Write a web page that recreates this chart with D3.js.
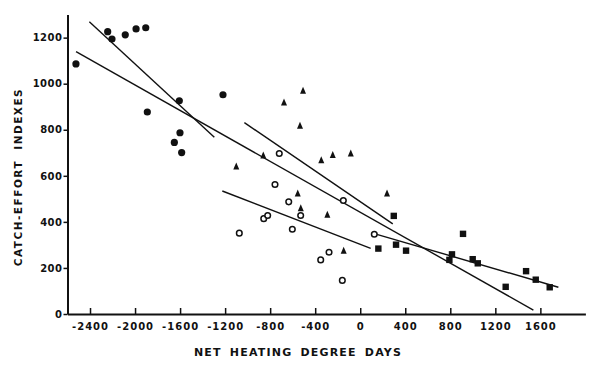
<!DOCTYPE html>
<html>
<head>
<meta charset="utf-8">
<script src="https://cdn.jsdelivr.net/npm/d3@7"></script>
<style>
  body { margin: 0; background: #fff; }
  svg { display: block; }
  .axis text { font-family: "DejaVu Sans", sans-serif; font-weight: bold; font-size: 10px; fill: #111; }
  .axis path, .axis line { stroke: #111; }
  .title { font-family: "DejaVu Sans", sans-serif; font-weight: bold; fill: #111; }
</style>
</head>
<body>
<script>
// values: [net heating degree days, catch-effort index]
const xTicks = [-2400, -2000, -1600, -1200, -800, -400, 0, 400, 800, 1200, 1600];
const yTicks = [0, 200, 400, 600, 800, 1000, 1200];

const filledCircles = [
  [-2525, 1086], [-2243, 1226], [-2205, 1194], [-2087, 1212], [-1991, 1238],
  [-1905, 1243], [-1891, 877], [-1607, 926], [-1601, 787], [-1651, 745],
  [-1586, 701], [-1219, 952]
];
const triangles = [
  [-1101, 640], [-861, 687], [-677, 917], [-508, 968], [-535, 817],
  [-346, 667], [-244, 690], [-84, 696], [-555, 522], [-528, 458],
  [-292, 430], [238, 522], [-147, 274]
];
const openCircles = [
  [-1074, 351], [-757, 562], [-635, 487], [-857, 414], [-822, 428],
  [-603, 368], [-719, 697], [-529, 428], [-150, 493], [125, 346],
  [-351, 235], [-277, 268], [-159, 146]
];
const squares = [
  [298, 426], [161, 284], [318, 301], [407, 275], [913, 348],
  [815, 259], [792, 235], [999, 238], [1044, 220], [1473, 186],
  [1559, 149], [1292, 118], [1683, 116]
];
// fitted lines: [x1, y1, x2, y2]
const fitLines = [
  [-2406, 1269, -1296, 767],
  [-2524, 1139, 1538, 17],
  [-1029, 831, 289, 391],
  [-1225, 534, 93, 285],
  [147, 346, 1760, 116]
];

let width = 600, height = 367;

let svg = d3.select("body").append("svg")
    .attr("width", width)
    .attr("height", height);

let x = d3.scaleLinear().domain([-2600, 2000]).range([67.5, 585.4]);
let y = d3.scaleLinear().domain([0, 1300]).range([314, 14.6]);

// plain integers, ascii hyphen, no thousands comma
let fmt = d => String(d);

// axes
let xAxis = svg.append("g")
    .attr("class", "axis")
    .attr("transform", "translate(0," + y(0) + ")")
    .call(d3.axisBottom(x).tickValues(xTicks).tickFormat(fmt).tickSize(-6).tickPadding(4).tickSizeOuter(0));
xAxis.select(".domain").attr("stroke-width", 2);
xAxis.selectAll(".tick line").attr("stroke-width", 1.5);
xAxis.selectAll("text").attr("dy", "1.15em").style("letter-spacing", "1px");

let yAxis = svg.append("g")
    .attr("class", "axis")
    .attr("transform", "translate(" + x(-2600) + ",0)")
    .call(d3.axisLeft(y).tickValues(yTicks).tickFormat(fmt).tickSize(4).tickPadding(1).tickSizeOuter(0));
yAxis.select(".domain").attr("stroke-width", 2);
yAxis.selectAll(".tick line").attr("stroke-width", 1.5);
yAxis.selectAll("text").style("letter-spacing", "0.5px");

// titles
svg.append("text")
    .attr("class", "title")
    .attr("x", 298)
    .attr("y", 356)
    .attr("text-anchor", "middle")
    .style("font-size", "11px")
    .style("letter-spacing", "1.2px")
    .style("word-spacing", "3px")
    .text("NET HEATING DEGREE DAYS");

svg.append("text")
    .attr("class", "title")
    .attr("transform", "translate(22,177) rotate(-90)")
    .attr("text-anchor", "middle")
    .style("font-size", "10.5px")
    .style("letter-spacing", "1.5px")
    .style("word-spacing", "5px")
    .text("CATCH-EFFORT INDEXES");

// fitted lines
svg.selectAll(".fit")
    .data(fitLines)
  .enter().append("line")
    .attr("class", "fit")
    .attr("x1", d => x(d[0]))
    .attr("y1", d => y(d[1]))
    .attr("x2", d => x(d[2]))
    .attr("y2", d => y(d[3]))
    .attr("stroke", "#111")
    .attr("stroke-width", 1.4);

// markers
svg.selectAll(".dot")
    .data(filledCircles)
  .enter().append("circle")
    .attr("class", "dot")
    .attr("cx", d => x(d[0]))
    .attr("cy", d => y(d[1]))
    .attr("r", 3.6)
    .attr("fill", "#111");

svg.selectAll(".ring")
    .data(openCircles)
  .enter().append("circle")
    .attr("class", "ring")
    .attr("cx", d => x(d[0]))
    .attr("cy", d => y(d[1]))
    .attr("r", 2.8)
    .attr("fill", "#fff")
    .attr("stroke", "#111")
    .attr("stroke-width", 1.5);

svg.selectAll(".tri")
    .data(triangles)
  .enter().append("path")
    .attr("class", "tri")
    .attr("d", "M0,-4.2L3,2.8L-3,2.8Z")
    .attr("transform", d => "translate(" + x(d[0]) + "," + y(d[1]) + ")")
    .attr("fill", "#111");

svg.selectAll(".sq")
    .data(squares)
  .enter().append("rect")
    .attr("class", "sq")
    .attr("x", d => x(d[0]) - 3.2)
    .attr("y", d => y(d[1]) - 3.2)
    .attr("width", 6.4)
    .attr("height", 6.4)
    .attr("fill", "#111");
</script>
</body>
</html>
